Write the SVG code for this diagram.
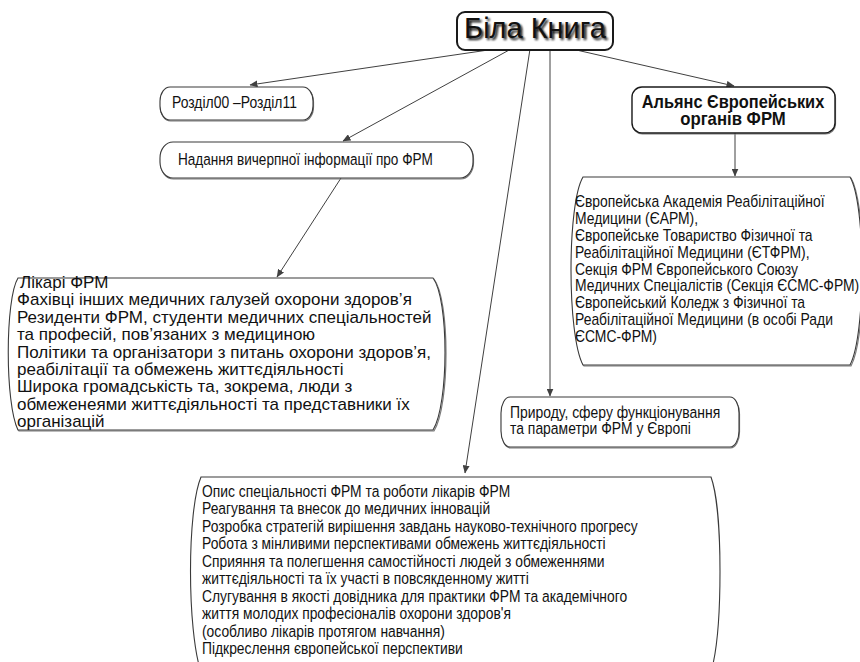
<svg xmlns="http://www.w3.org/2000/svg" width="860" height="662" viewBox="0 0 860 662">
  <defs>
    <marker id="arrow" markerWidth="8" markerHeight="7" refX="7.5" refY="3.5" orient="auto" markerUnits="userSpaceOnUse">
      <path d="M0,0 L8,3.5 L0,7 Z" fill="#404040"/>
    </marker>
    <filter id="soft" x="-10%" y="-20%" width="120%" height="140%">
      <feGaussianBlur stdDeviation="0.9"/>
    </filter>
  </defs>
  <style>
    .box { fill: #ffffff; stroke: #3a3a3a; stroke-width: 1.1; }
    .shade { fill: none; stroke: #7a7a7a; stroke-width: 1.2; }
    .edge { fill: none; stroke: #404040; stroke-width: 1; marker-end: url(#arrow); }
    .t { font-family: "Liberation Sans", Arial, sans-serif; fill: #111; }
  </style>
  <rect width="860" height="662" fill="#ffffff"/>

  <!-- connectors -->
  <g id="connectors">
    <line class="edge" x1="495" y1="49" x2="250" y2="85"/>
    <line class="edge" x1="511" y1="49" x2="343" y2="141"/>
    <line class="edge" x1="530" y1="49" x2="465" y2="473"/>
    <line class="edge" x1="550" y1="49" x2="550" y2="396"/>
    <line class="edge" x1="572" y1="49" x2="734" y2="86"/>
    <line class="edge" x1="735" y1="133" x2="735" y2="176"/>
    <line class="edge" x1="341" y1="178" x2="277" y2="277"/>
  </g>

  <!-- title -->
  <g id="node-title">
    <rect x="457" y="12" width="156" height="38" rx="8" ry="8" fill="#ffffff" stroke="#1a1a1a" stroke-width="2"/>
    <text class="t" x="537" y="40" font-size="29" text-anchor="middle" fill="#b0b0b0" filter="url(#soft)">Біла Книга</text>
    <text class="t" x="535" y="38" font-size="29" text-anchor="middle">Біла Книга</text>
  </g>

  <!-- sections -->
  <g id="node-sections">
    <rect class="shade" x="160.5" y="88" width="153" height="33" rx="10" ry="14"/>
    <rect class="box" x="160" y="87" width="153" height="33" rx="10" ry="14"/>
    <text class="t" transform="translate(172,108) scale(0.82,1)" font-size="17">Розділ00 –Розділ11</text>
  </g>

  <!-- information -->
  <g id="node-info">
    <rect class="shade" x="160.5" y="143" width="313" height="36" rx="13" ry="16"/>
    <rect class="box" x="160" y="142" width="313" height="36" rx="13" ry="16"/>
    <text class="t" transform="translate(178,165) scale(0.8,1)" font-size="17">Надання вичерпної інформації про ФРМ</text>
  </g>

  <!-- alliance -->
  <g id="node-alliance">
    <rect class="shade" x="632.5" y="88" width="203" height="46" rx="10" ry="10"/>
    <rect x="632" y="87" width="203" height="46" rx="10" ry="10" fill="#ffffff" stroke="#1a1a1a" stroke-width="1.4"/>
    <g class="t" font-size="18" font-weight="bold" text-anchor="middle">
      <text transform="translate(733,108) scale(0.91,1)">Альянс Європейських</text>
      <text transform="translate(733,125) scale(0.93,1)">органів ФРМ</text>
    </g>
  </g>

  <!-- alliance members -->
  <g id="node-members">
    <path class="shade" d="M584,178 H851 C867,205 867,336 851,366 H584 C568,336 568,205 584,178 Z"/>
    <path class="box" d="M583,177 H850 C866,204 866,335 850,365 H583 C567,335 567,204 583,177 Z"/>
    <g class="t" font-size="17" transform="translate(575,0) scale(0.818,1)">
      <text x="0" y="207">Європейська Академія Реабілітаційної</text>
      <text x="0" y="223.9">Медицини (ЄАРМ),</text>
      <text x="0" y="240.8">Європейське Товариство Фізичної та</text>
      <text x="0" y="257.7">Реабілітаційної Медицини (ЄТФРМ),</text>
      <text x="0" y="274.6">Секція ФРМ Європейського Союзу</text>
      <text x="0" y="291.5">Медичних Спеціалістів (Секція ЄСМС-ФРМ)</text>
      <text x="0" y="308.4">Європейський Коледж з Фізичної та</text>
      <text x="0" y="325.3">Реабілітаційної Медицини (в особі Ради</text>
      <text x="0" y="342.2">ЄСМС-ФРМ)</text>
    </g>
  </g>

  <!-- audience -->
  <g id="node-audience">
    <path class="shade" d="M19,279 H434 C450,300 450,405 434,431 H19 C6,405 6,300 19,279 Z"/>
    <path class="box" d="M18,278 H433 C449,299 449,404 433,430 H18 C5,404 5,299 18,278 Z"/>
    <g class="t" font-size="17">
      <text x="20" y="288">Лікарі ФРМ</text>
      <text x="17" y="305.4">Фахівці інших медичних галузей охорони здоров’я</text>
      <text x="17" y="322.8">Резиденти ФРМ, студенти медичних спеціальностей</text>
      <text x="17" y="340.2">та професій, пов’язаних з медициною</text>
      <text x="17" y="357.6">Політики та організатори з питань охорони здоров’я,</text>
      <text x="17" y="375">реабілітації та обмежень життєдіяльності</text>
      <text x="17" y="392.4">Широка громадськість та, зокрема, люди з</text>
      <text x="17" y="409.8">обмеженеями життєдіяльності та представники їх</text>
      <text x="17" y="427.2">організацій</text>
    </g>
  </g>

  <!-- nature of PRM -->
  <g id="node-nature">
    <rect class="shade" x="501.5" y="398" width="238" height="50" rx="9" ry="16"/>
    <rect class="box" x="501" y="397" width="238" height="50" rx="9" ry="16"/>
    <g class="t" font-size="17">
      <text transform="translate(510,418) scale(0.82,1)">Природу, сферу функціонування</text>
      <text transform="translate(510,434) scale(0.82,1)">та параметри ФРМ у Європі</text>
    </g>
  </g>

  <!-- aims -->
  <g id="node-aims">
    <path class="box" d="M201,477 H711 C723,510 723,630 711,672 H201 C187,630 187,510 201,477 Z"/>
    <g class="t" font-size="17" transform="translate(202,0) scale(0.815,1)">
      <text x="0" y="497">Опис спеціальності ФРМ та роботи лікарів ФРМ</text>
      <text x="0" y="514.5">Реагування та внесок до медичних інновацій</text>
      <text x="0" y="532">Розробка стратегій вирішення завдань науково-технічного прогресу</text>
      <text x="0" y="549.5">Робота з мінливими перспективами обмежень життєдіяльності</text>
      <text x="0" y="567">Сприяння та полегшення самостійності людей з обмеженнями</text>
      <text x="0" y="584.5">життєдіяльності та їх участі в повсякденному житті</text>
      <text x="0" y="602">Слугування в якості довідника для практики ФРМ та академічного</text>
      <text x="0" y="619.5">життя молодих професіоналів охорони здоров'я</text>
      <text x="0" y="637">(особливо лікарів протягом навчання)</text>
      <text x="0" y="654.5">Підкреслення європейської перспективи</text>
    </g>
  </g>
</svg>
